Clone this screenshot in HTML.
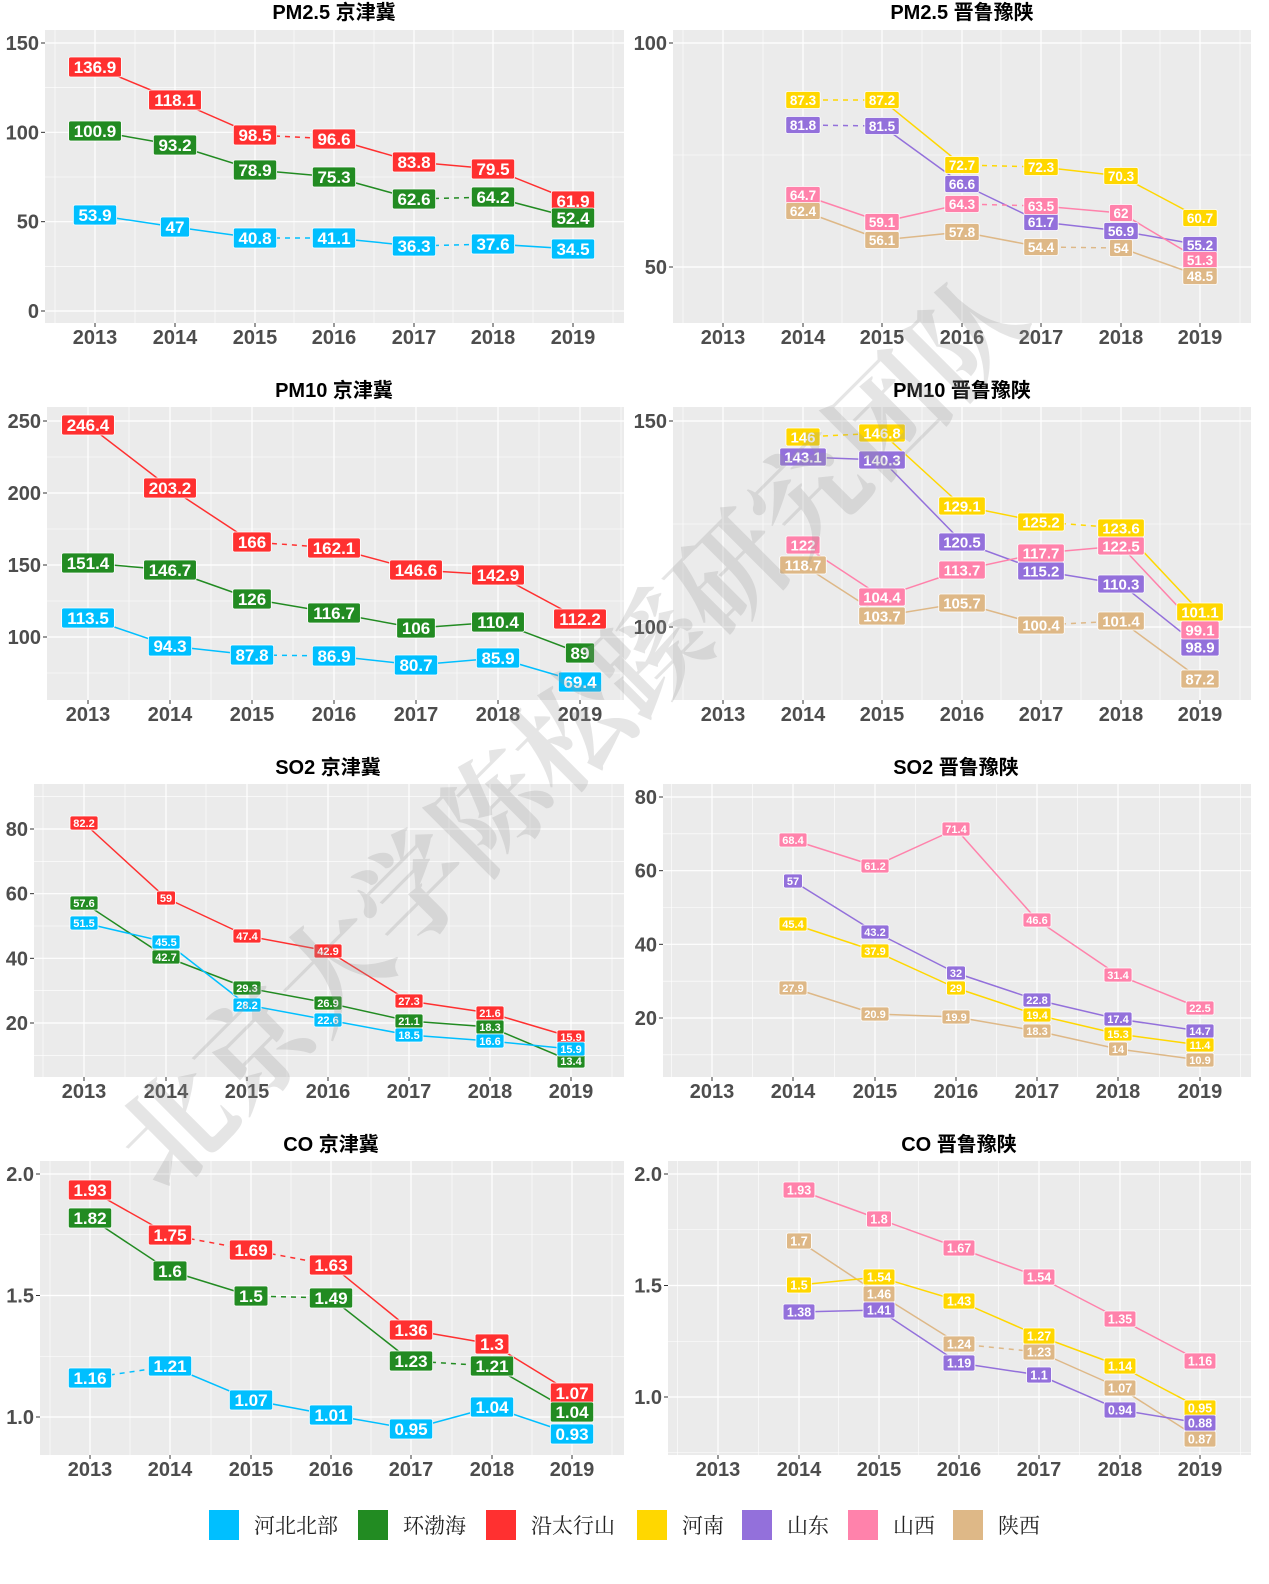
<!DOCTYPE html>
<html><head><meta charset="utf-8"><style>
body{margin:0;background:#fff;}
svg{display:block;}
</style></head><body>
<svg id="s" width="1269" height="1584" xmlns="http://www.w3.org/2000/svg"></svg>
<script>
const C={b:'#00BFFF',g:'#228B22',r:'#FF3030',y:'#FFD700',p:'#9370DB',k:'#FF82AB',t:'#DEB887'};
const FA=`font-family='"Liberation Sans","Noto Sans CJK SC",sans-serif'`;
let o='';
function px(fs,s){let w=0;for(const ch of s)w+=(ch=='.'?0.278:0.556)*fs;return w;}
const panels=[
{t:'PM2.5 京津冀',tx:334,ty:12,box:[45,30,624,323],xs:[95,175,255,334,414,493,573],
 ym:[[150,43],[0,311]],maj:[0,50,100,150],fs:17,lh:20,
 s:[['r',0,[[136.9,67],[118.1,100],[98.5,135],[96.6,139],[83.8,162],[79.5,169],[61.9,201]],[2]],
    ['g',0,[[100.9,131],[93.2,145],[78.9,170],[75.3,177],[62.6,199],[64.2,197],[52.4,218]],[4]],
    ['b',0,[[53.9,215],[47,227],[40.8,238],[41.1,238],[36.3,246],[37.6,244],[34.5,249]],[2,4]]]},
{t:'PM2.5 晋鲁豫陕',tx:962,ty:12,box:[673,30,1251,323],xs:[723,803,882,962,1041,1121,1200],
 ym:[[100,43],[50,267]],maj:[50,100],fs:13.5,lh:17,
 s:[['y',1,[[87.3,100],[87.2,100],[72.7,165],[72.3,167],[70.3,176],[60.7,218]],[0,2]],
    ['p',1,[[81.8,125],[81.5,126],[66.6,184],[61.7,222],[56.9,231],[55.2,245]],[0]],
    ['k',1,[[64.7,195],[59.1,222],[64.3,204],[63.5,206],[62,213],[51.3,260]],[2]],
    ['t',1,[[62.4,211],[56.1,240],[57.8,232],[54.4,247],[54,248],[48.5,276]],[3]]]},
{t:'PM10 京津冀',tx:334,ty:390,box:[47,407,624,700],xs:[88,170,252,334,416,498,580],
 ym:[[250,421],[100,637]],maj:[100,150,200,250],fs:17,lh:20,
 s:[['r',0,[[246.4,425],[203.2,488],[166,542],[162.1,548],[146.6,570],[142.9,575],[112.2,619]],[2]],
    ['g',0,[[151.4,563],[146.7,570],[126,599],[116.7,613],[106,628],[110.4,622],[89,653]],[]],
    ['b',0,[[113.5,618],[94.3,646],[87.8,655],[86.9,656],[80.7,665],[85.9,658],[69.4,682]],[2]]]},
{t:'PM10 晋鲁豫陕',tx:962,ty:390,box:[673,407,1251,700],xs:[723,803,882,962,1041,1121,1200],
 ym:[[150,421],[100,627]],maj:[100,150],fs:15,lh:18,
 s:[['y',1,[[146,437],[146.8,433],[129.1,506],[125.2,522],[123.6,528],[101.1,612]],[0,3]],
    ['p',1,[[143.1,457],[140.3,460],[120.5,542],[115.2,571],[110.3,584],[98.9,647]],[]],
    ['k',1,[[122,545],[104.4,597],[113.7,570],[117.7,553],[122.5,546],[99.1,630]],[]],
    ['t',1,[[118.7,565],[103.7,616],[105.7,603],[100.4,625],[101.4,621],[87.2,679]],[3]]]},
{t:'SO2 京津冀',tx:328,ty:767,box:[34,784,624,1077],xs:[84,166,247,328,409,490,571],
 ym:[[80,829],[20,1023]],maj:[20,40,60,80],fs:11,lh:14,
 s:[['r',0,[[82.2,823],[59,898],[47.4,936],[42.9,951],[27.3,1001],[21.6,1013],[15.9,1037]],[]],
    ['g',0,[[57.6,903],[42.7,957],[29.3,988],[26.9,1003],[21.1,1021],[18.3,1027],[13.4,1061]],[]],
    ['b',0,[[51.5,923],[45.5,942],[28.2,1005],[22.6,1020],[18.5,1035],[16.6,1041],[15.9,1049]],[]]]},
{t:'SO2 晋鲁豫陕',tx:956,ty:767,box:[663,784,1251,1077],xs:[712,793,875,956,1037,1118,1200],
 ym:[[80,797],[20,1018]],maj:[20,40,60,80],fs:11,lh:14,
 s:[['k',1,[[68.4,840],[61.2,866],[71.4,829],[46.6,920],[31.4,975],[22.5,1008]],[]],
    ['p',1,[[57,881],[43.2,932],[32,973],[22.8,1000],[17.4,1019],[14.7,1031]],[]],
    ['y',1,[[45.4,924],[37.9,951],[29,988],[19.4,1015],[15.3,1034],[11.4,1045]],[]],
    ['t',1,[[27.9,988],[20.9,1014],[19.9,1017],[18.3,1031],[14,1049],[10.9,1060]],[]]]},
{t:'CO 京津冀',tx:331,ty:1144,box:[40,1161,624,1455],xs:[90,170,251,331,411,492,572],
 ym:[[2.0,1174],[1.0,1417]],maj:[1.0,1.5,2.0],fs:17,lh:20,dec:1,
 s:[['r',0,[[1.93,1190],[1.75,1235],[1.69,1250],[1.63,1265],[1.36,1330],[1.3,1344],[1.07,1393]],[1,2]],
    ['g',0,[[1.82,1218],[1.6,1271],[1.5,1296],[1.49,1298],[1.23,1361],[1.21,1366],[1.04,1412]],[2,4]],
    ['b',0,[[1.16,1378],[1.21,1366],[1.07,1400],[1.01,1415],[0.95,1429],[1.04,1407],[0.93,1434]],[0]]]},
{t:'CO 晋鲁豫陕',tx:959,ty:1144,box:[668,1161,1251,1455],xs:[718,799,879,959,1039,1120,1200],
 ym:[[2.0,1174],[1.0,1397]],maj:[1.0,1.5,2.0],fs:12.5,lh:16,dec:1,
 s:[['k',1,[[1.93,1190],[1.8,1219],[1.67,1248],[1.54,1277],[1.35,1319],[1.16,1361]],[]],
    ['t',1,[[1.7,1241],[1.46,1294],[1.24,1344],[1.23,1352],[1.07,1388],[0.87,1439]],[2]],
    ['y',1,[[1.5,1285],[1.54,1277],[1.43,1301],[1.27,1336],[1.14,1366],[0.95,1408]],[]],
    ['p',1,[[1.38,1312],[1.41,1310],[1.19,1363],[1.1,1375],[0.94,1410],[0.88,1423]],[]]]}
];
const years=[2013,2014,2015,2016,2017,2018,2019];
let labels='';
for(const P of panels){
  const [x0,y0,x1,y1]=P.box;
  const [[v1,p1],[v2,p2]]=P.ym; const k=(p2-p1)/(v2-v1);
  const Y=v=>p1+(v-v1)*k;
  o+=`<rect x="${x0}" y="${y0}" width="${x1-x0}" height="${y1-y0}" fill="#EBEBEB"/>`;
  const step=P.xs[1]-P.xs[0];
  for(let i=0;i<7;i++){const mx=P.xs[i]-step/2; if(mx>x0)o+=`<line x1="${mx}" x2="${mx}" y1="${y0}" y2="${y1}" stroke="#fff" stroke-width="0.6"/>`;}
  const mx2=P.xs[6]+step/2; if(mx2<x1)o+=`<line x1="${mx2}" x2="${mx2}" y1="${y0}" y2="${y1}" stroke="#fff" stroke-width="0.6"/>`;
  const d=P.maj[1]-P.maj[0];
  for(let v=P.maj[0]-d/2; v<=P.maj[P.maj.length-1]+d/2+1e-9; v+=d){const yy=Y(v); if(yy>y0&&yy<y1)o+=`<line x1="${x0}" x2="${x1}" y1="${yy}" y2="${yy}" stroke="#fff" stroke-width="0.6"/>`;}
  for(const v of P.maj){const yy=Y(v);o+=`<line x1="${x0}" x2="${x1}" y1="${yy}" y2="${yy}" stroke="#fff" stroke-width="1.2"/>`;
    o+=`<line x1="${x0-4}" x2="${x0}" y1="${yy}" y2="${yy}" stroke="#333" stroke-width="1"/>`;
    o+=`<text x="${x0-6}" y="${yy+7}" text-anchor="end" ${FA} font-size="20" font-weight="bold" fill="#4D4D4D">${P.dec?v.toFixed(1):v}</text>`;}
  for(let i=0;i<7;i++){const xx=P.xs[i];
    o+=`<line x1="${xx}" x2="${xx}" y1="${y0}" y2="${y1}" stroke="#fff" stroke-width="1.2"/>`;
    o+=`<line x1="${xx}" x2="${xx}" y1="${y1}" y2="${y1+4}" stroke="#333"/>`;
    o+=`<text x="${xx}" y="${y1+21}" text-anchor="middle" ${FA} font-size="20" font-weight="bold" fill="#4D4D4D">${years[i]}</text>`;}
  o+=`<text x="${P.tx}" y="${P.ty+7}" text-anchor="middle" ${FA} font-size="20" font-weight="bold" fill="#000">${P.t}</text>`;
  for(const [c,off,pts,dash] of P.s){
    for(let i=0;i<pts.length-1;i++){
      const xa=P.xs[i+off],xb=P.xs[i+1+off];
      o+=`<line x1="${xa}" y1="${pts[i][1]}" x2="${xb}" y2="${pts[i+1][1]}" stroke="${C[c]}" stroke-width="1.5" ${dash.includes(i)?'stroke-dasharray="5,5"':''}/>`;
    }
    pts.forEach((p,i)=>{const s=String(p[0]);const w=px(P.fs,s)+P.fs*0.6;const xx=P.xs[i+off];
      labels+=`<rect x="${xx-w/2}" y="${p[1]-P.lh/2}" width="${w}" height="${P.lh}" rx="2" fill="${C[c]}" stroke="#fff" stroke-width="0.8"/>`;
      labels+=`<text x="${xx}" y="${p[1]+P.fs*0.36}" text-anchor="middle" ${FA} font-size="${P.fs}" font-weight="bold" fill="#fff">${s}</text>`;});
  }
}
o+=labels;
o+=`<text x="0" y="0" transform="translate(600,760) rotate(-45)" text-anchor="middle" font-family='"Noto Serif CJK SC","Noto Sans CJK SC",serif' font-size="112" font-weight="bold" fill="#999" fill-opacity="0.25">北京大学陈松蹊研究团队</text>`;
const lg=[['b',209,'河北北部'],['g',358,'环渤海'],['r',486,'沿太行山'],['y',637,'河南'],['p',742,'山东'],['k',848,'山西'],['t',953,'陕西']];
for(const [c,x,t] of lg){o+=`<rect x="${x}" y="1510" width="30" height="30" fill="${C[c]}"/>`;
 o+=`<text x="${x+45}" y="1533" font-family='"Noto Serif CJK SC","Noto Sans CJK SC",serif' font-size="21" fill="#222">${t}</text>`;}
document.getElementById('s').innerHTML=o;
</script>
</body></html>
